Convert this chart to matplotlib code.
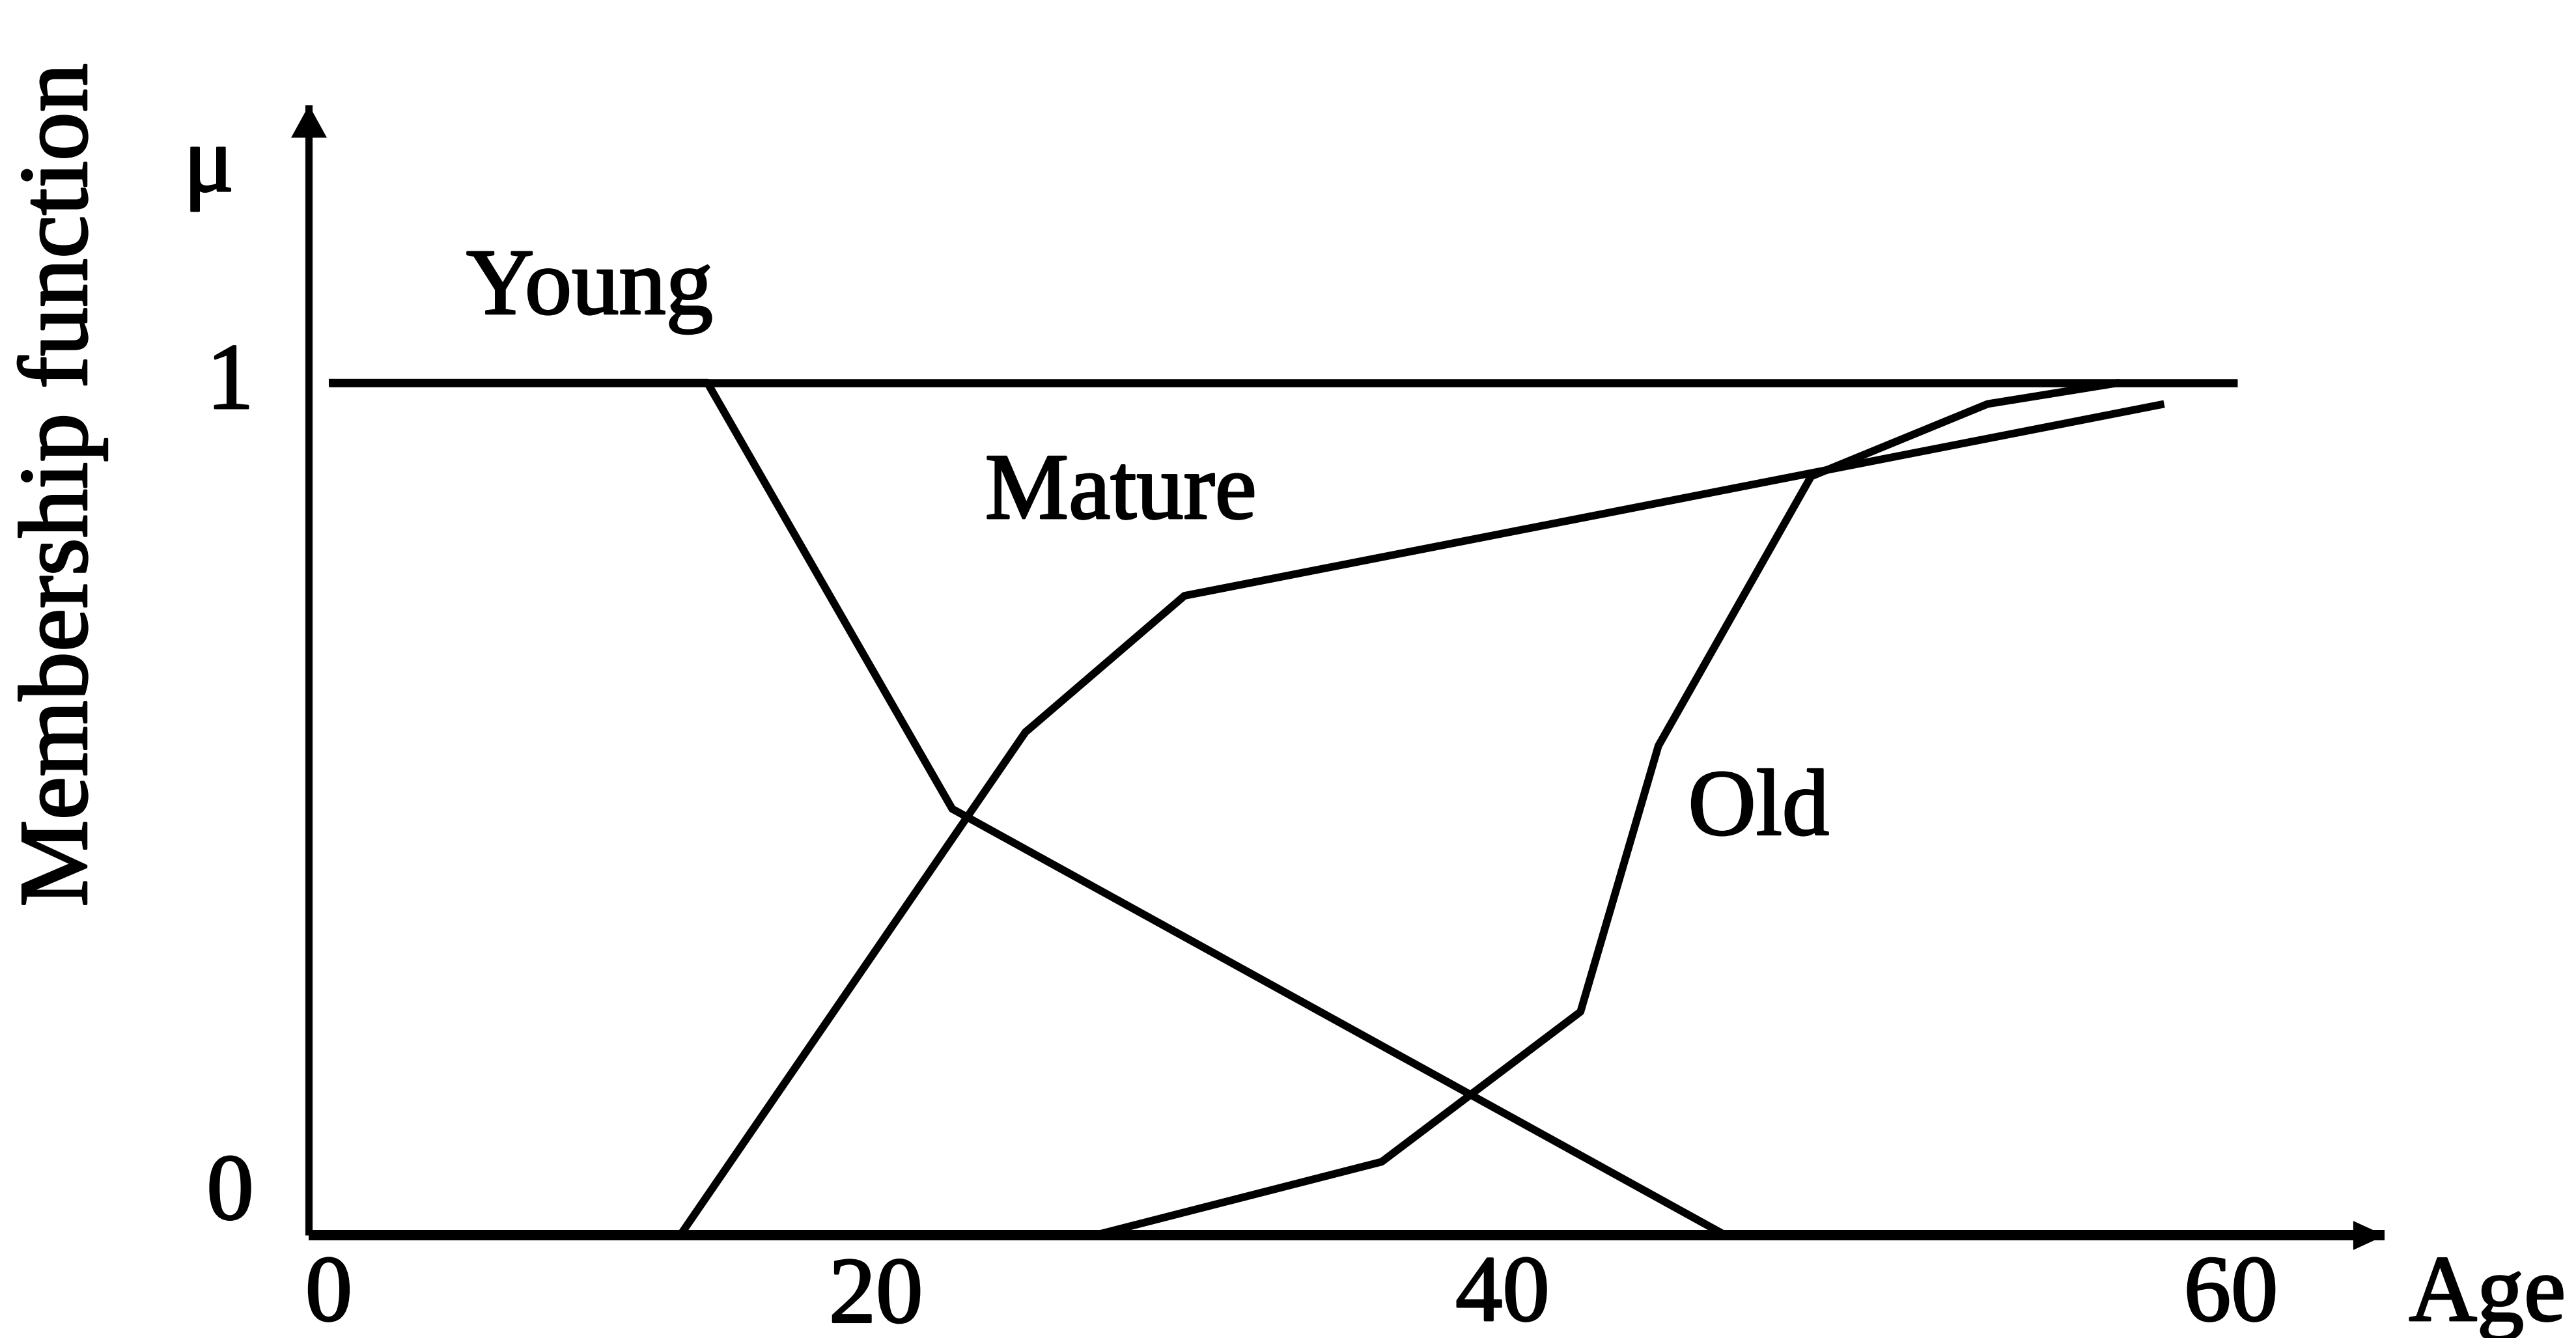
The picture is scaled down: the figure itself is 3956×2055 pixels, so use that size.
import matplotlib
matplotlib.use("Agg")
import matplotlib.pyplot as plt
import matplotlib.patheffects as pe

plt.rcParams["font.family"] = ["Liberation Serif", "DejaVu Serif"]

# membership functions (age, mu)
young_age = [0, 11.9, 19.6, 43.9]
young_mu = [1.0, 1.0, 0.50, 0.0]

mature_age = [11.05, 21.9, 26.9, 57.7]
mature_mu = [0.0, 0.59, 0.75, 0.975]

old_age = [24.1, 33.1, 39.35, 41.8, 46.6, 52.15, 56.3]
old_mu = [0.0, 0.086, 0.262, 0.574, 0.89, 0.975, 1.0]

# reference line mu = 1
top_age = [0, 60]
top_mu = [1, 1]

# labels
xtick_labels = ["0", "20", "40", "60"]
xtick_pos = [0, 17.2, 36.9, 59.8]
xtick_base = [-0.1, -0.102, -0.1, -0.1]
ytick_labels = ["0", "1"]
ytick_pos = [0.019, 0.970]
curve_names = ["Young", "Mature", "Old"]
name_pos = [(8.2, 1.081), (24.9, 0.841), (44.95, 0.470)]

FS = 104
thick = [pe.withStroke(linewidth=2.2, foreground="k")]

fig = plt.figure(figsize=(39.56, 20.55), dpi=100)
ax = fig.add_axes([0.1198, 0.0769, 0.8059, 0.8448])
ax.set_xlim(-0.635, 64.63)
ax.set_ylim(0, 1.326)

for s in ["top", "right"]:
    ax.spines[s].set_visible(False)
ax.spines["bottom"].set_linewidth(11.5)
ax.spines["left"].set_linewidth(8)
ax.spines["bottom"].set_capstyle("butt")
ax.spines["left"].set_capstyle("butt")
ax.set_xticks([])
ax.set_yticks([])

# arrow heads
ax.plot([1], [0], marker=[(0, 0), (-1, 0.46), (-1, -0.46)], ms=70, color="k",
        mew=0, transform=ax.transAxes, clip_on=False)
ax.plot([0], [1], marker=[(0, 0), (0.55, -1), (-0.55, -1)], ms=72, color="k",
        mew=0, transform=ax.transAxes, clip_on=False)

ax.plot(top_age, top_mu, color="k", lw=9, solid_capstyle="butt")
ax.plot(young_age, young_mu, color="k", lw=8.5, solid_capstyle="butt")
ax.plot(mature_age, mature_mu, color="k", lw=8.5, solid_capstyle="butt")
ax.plot(old_age, old_mu, color="k", lw=8.5, solid_capstyle="butt")

for name, (px, py) in zip(curve_names, name_pos):
    ax.text(px, py, name, fontsize=FS, ha="center", va="baseline", path_effects=thick)

for lab, px, py in zip(xtick_labels, xtick_pos, xtick_base):
    ax.text(px, py, lab, fontsize=FS, ha="center", va="baseline", clip_on=False,
            path_effects=thick)
for lab, py in zip(ytick_labels, ytick_pos):
    ax.text(-3.1, py, lab, fontsize=FS, ha="center", va="baseline", clip_on=False,
            path_effects=thick)

ax.text(67.86, -0.1, "Age", fontsize=FS, ha="center", va="baseline", clip_on=False,
        path_effects=thick)
ax.text(-3.77, 1.225, "\u03bc", fontsize=FS, ha="center", va="baseline", clip_on=False,
        path_effects=thick)
ax.text(-7.62, 0.88, "Membership function", fontsize=108, rotation=90,
        rotation_mode="anchor", ha="center", va="baseline", clip_on=False,
        path_effects=thick)

fig.savefig("out.png", dpi=100, facecolor="white")
